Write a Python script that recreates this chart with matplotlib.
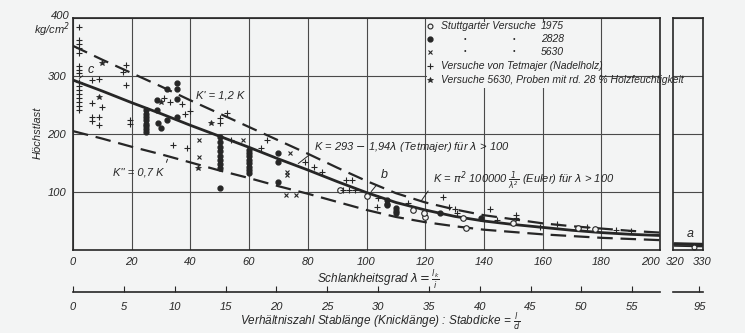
import numpy as np
import matplotlib.pyplot as plt
from matplotlib.patches import Rectangle

plt.rcParams['font.family'] = ['Liberation Sans', 'DejaVu Sans']
plt.rcParams['font.style'] = 'italic'
plt.rcParams['mathtext.fontset'] = 'dejavusans'

bg = '#f3f4f4'
ink = '#262626'
W, H = 745, 333

# Knickspannungslinien
lam_curve = [0, 10, 20, 30, 40, 50, 60, 70, 80, 90, 100, 110, 120, 130, 140, 150, 160, 170, 180, 190, 200]
K_mid = [293, 274, 254, 235, 215, 196, 177, 157, 138, 118, 99, 82, 69, 58, 50, 44, 39, 34, 30, 27, 25]
K_up = [352, 328, 305, 282, 258, 235, 212, 189, 166, 142, 119, 98, 82, 70, 60, 53, 46, 41, 37, 33, 30]
K_low = [205, 192, 178, 165, 151, 137, 124, 110, 97, 83, 69, 57, 48, 41, 35, 31, 27, 24, 21, 19, 17]

lam_a = [320, 330]
K_a_mid = [10, 9]
K_a_up = [12, 11]
K_a_low = [7, 6]

# Versuchswerte
circ_lam = [91, 100, 116, 120, 119.5, 133, 134, 150, 172, 178, 327]
circ_K = [103, 93, 69, 57, 64, 55, 38, 46, 38, 36, 5]

dot_lam = [25, 25, 25, 25, 25, 25, 25, 25,
           28.6, 28.6, 29, 30, 32, 32, 35.4, 35.4, 35.4, 35.4,
           50, 50, 50, 50, 50, 50, 50, 50, 50,
           60, 60, 60, 60, 60, 60, 60, 60,
           70, 70, 70, 107, 107, 107, 110, 110, 110, 125, 139]
dot_K = [203, 208, 213, 218, 224, 229, 235, 241,
         259, 241, 219, 210, 277, 224, 288, 277, 260, 229,
         107, 141, 148, 155, 162, 170, 178, 186, 195,
         133, 138, 143, 150, 156, 162, 167, 172,
         167, 152, 117, 86, 80, 77, 72, 68, 64, 64, 55]

x_lam = [43, 43, 58, 74, 73, 73, 76, 72.5]
x_K = [190, 160, 190, 167, 135, 129, 95, 95]

star_lam = [10, 9, 42.6, 47, 30]
star_K = [322, 263, 141, 219, 255]

plus_lam = [2, 2, 2, 2, 2, 2, 2, 2, 2, 2, 2, 2, 2, 2, 2, 2,
            6.5, 6.5, 6.5, 6.5, 9, 9, 9, 10, 17, 18, 18, 19.5, 19.5,
            31, 33, 34, 37, 39, 38, 40, 50, 50, 52.5, 54, 64, 66,
            79, 82, 85, 93, 95, 92, 94, 96, 104, 103.6, 114, 126, 128,
            130, 131, 142, 144.5, 151, 151, 159, 165, 175, 185, 190]
plus_K = [384, 362, 355, 348, 340, 318, 311, 305, 290, 283, 276, 269, 262, 255, 248, 241,
          293, 253, 229, 222, 295, 229, 215, 247, 307, 319, 284, 224, 217,
          262, 255, 181, 252, 176, 235, 240, 228, 219, 236, 190, 176, 190,
          152, 143, 134, 121, 121, 103, 103, 103, 90, 74, 81, 91, 75,
          70, 64, 70, 52, 60, 55, 40, 45, 40, 35, 33]

x_ticks = [0, 20, 40, 60, 80, 100, 120, 140, 160, 180, 200]
y_ticks = [100, 200, 300, 400]
ratio_ticks = [0, 5, 10, 15, 20, 25, 30, 35, 40, 45, 50, 55]


def fx(px):
    return px / W


def fy(py):
    return 1 - py / H


fig = plt.figure(figsize=(7.45, 3.33), dpi=100, facecolor=bg)
ax = fig.add_axes([fx(73), fy(250), 587 / W, 232 / H])
ax.set_facecolor(bg)
ax.set_xlim(0, 200)
ax.set_ylim(0, 400)
ax.set_xticks(x_ticks)
ax.set_yticks(y_ticks)
ax.set_xticklabels([str(t) for t in x_ticks], fontsize=8)
ax.get_xticklabels()[-1].set_horizontalalignment('right')
ax.set_yticklabels(['100', '200', '300', ''], fontsize=8)
ax.tick_params(length=0, pad=5, colors=ink)
ax.grid(True, color='#4a4a4a', lw=0.8)
for s in ax.spines.values():
    s.set_color(ink)
    s.set_linewidth(1.2)

dash = (0, (7, 3.5))
ax.plot(lam_curve, K_mid, color=ink, lw=2.0, zorder=3)
ax.plot(lam_curve, K_up, color=ink, lw=1.6, ls=dash, zorder=3)
ax.plot(lam_curve, K_low, color=ink, lw=1.6, ls=dash, zorder=3)

ax.plot(circ_lam, circ_K, 'o', ms=4, mfc=bg, mec=ink, mew=0.8, zorder=4)
ax.plot(dot_lam, dot_K, 'o', ms=3.5, color=ink, zorder=4)
ax.plot(x_lam, x_K, 'x', ms=3.5, color=ink, mew=0.8, zorder=4)
ax.plot(star_lam, star_K, '*', ms=4, color=ink, mew=0.5, zorder=4)
ax.plot(plus_lam, plus_K, '+', ms=4, color=ink, mew=0.8, zorder=4)

# Legende
ax.add_patch(Rectangle((fx(427), fy(88)), (600 - 427) / W, 66 / H, transform=fig.transFigure,
                       facecolor=bg, edgecolor='none', zorder=2.5))
leg_rows = [26, 39, 52, 66, 80]
leg_marks = [dict(marker='o', ms=3.5, mfc=bg, mec=ink, mew=0.8),
             dict(marker='o', ms=3.5, color=ink),
             dict(marker='x', ms=3, color=ink, mew=0.8),
             dict(marker='+', ms=4, color=ink, mew=0.8),
             dict(marker='*', ms=4, color=ink, mew=0.5)]
for py, mk in zip(leg_rows, leg_marks):
    ax.plot([fx(430)], [fy(py)], transform=fig.transFigure, clip_on=False, ls='none', zorder=5, **mk)
fs_leg = 7.5
fig.text(fx(441), fy(26), 'Stuttgarter Versuche', fontsize=fs_leg, va='center', color=ink)
for py, num in zip(leg_rows[:3], ['1975', '2828', '5630']):
    fig.text(fx(541), fy(py), num, fontsize=fs_leg, va='center', color=ink)
for py in leg_rows[1:3]:
    for px in [465, 514]:
        fig.text(fx(px), fy(py), '•', fontsize=5, va='center', ha='center', color=ink)
fig.text(fx(441), fy(66), 'Versuche von Tetmajer (Nadelholz)', fontsize=fs_leg, va='center', color=ink)
fig.text(fx(441), fy(80), 'Versuche 5630, Proben mit rd. 28 % Holzfeuchtigkeit', fontsize=fs_leg,
         va='center', color=ink)

# Beschriftungen der Linien
arrow = dict(arrowstyle='-', color=ink, lw=0.7)
ax.annotate('c', xy=(1.4, 293), xytext=(5, 306), fontsize=9, color=ink, arrowprops=arrow)
ax.annotate("K' = 1,2 K", xy=(39, 258), xytext=(42, 262), fontsize=8, color=ink, arrowprops=arrow)
ax.annotate("K'' = 0,7 K", xy=(32.5, 161), xytext=(13.5, 128), fontsize=8, color=ink,
            arrowprops=dict(arrowstyle='-', color=ink, lw=0.7, relpos=(1, 0.6)))
ax.annotate(r'K = 293 $-$ 1,94$\lambda$ (Tetmajer) für $\lambda$ > 100', xy=(76, 146), xytext=(82, 172),
            fontsize=8, color=ink, arrowprops=dict(arrowstyle='-', color=ink, lw=0.7, relpos=(0, 0.2)))
ax.annotate('b', xy=(101, 97), xytext=(105, 124), fontsize=9, color=ink, arrowprops=arrow)
ax.annotate(r'K = $\pi^2$ 100000 $\frac{1}{\lambda^2}$ (Euler) für $\lambda$ > 100', xy=(118, 80),
            xytext=(122.5, 116), fontsize=8, color=ink,
            arrowprops=dict(arrowstyle='-', color=ink, lw=0.7, relpos=(0, 0.3)))

fig.text(fx(70), fy(16), '400', fontsize=8, ha='right', va='center', color=ink)
fig.text(fx(70), fy(30), 'kg/cm$^2$', fontsize=8, ha='right', va='center', color=ink)
fig.text(fx(38), fy(133), 'Höchstlast', fontsize=8, rotation=90, ha='center', va='center', color=ink)
fig.text(fx(378), fy(279), r'Schlankheitsgrad $\lambda = \frac{l_k}{i}$', fontsize=8.5,
         ha='center', va='center', color=ink)

# Ausschnitt bei lambda = 320 ... 330
axi = fig.add_axes([fx(673), fy(250), 30 / W, 232 / H])
axi.set_facecolor(bg)
axi.set_xlim(319.3, 330.4)
axi.set_ylim(0, 400)
axi.set_xticks([320, 330])
axi.set_xticklabels(['320', '330'], fontsize=8)
axi.set_yticks(y_ticks)
axi.set_yticklabels([])
axi.tick_params(length=0, pad=5, colors=ink)
axi.grid(True, axis='y', color='#4a4a4a', lw=0.8)
for s in axi.spines.values():
    s.set_color(ink)
    s.set_linewidth(1.2)
axi.plot(lam_a, K_a_mid, color=ink, lw=2.0)
axi.plot(lam_a, K_a_up, color=ink, lw=1.2)
axi.plot(lam_a, K_a_low, color=ink, lw=1.2)
axi.plot([327], [5], 'o', ms=3.5, mfc=bg, mec=ink, mew=0.8, clip_on=False)
axi.text(324.5, 22, 'a', fontsize=9, color=ink)

# zweite Skala: l/d
axr = fig.add_axes([fx(73), fy(292), 587 / W, 0.001])
axr.set_facecolor('none')
axr.set_xlim(0, 200 / np.sqrt(12))
axr.set_xticks(ratio_ticks)
axr.set_xticklabels([str(t) for t in ratio_ticks], fontsize=8)
axr.set_yticks([])
axr.tick_params(axis='x', direction='in', length=4, width=0.8, pad=7, colors=ink)
for k in ['top', 'left', 'right']:
    axr.spines[k].set_visible(False)
axr.spines['bottom'].set_color(ink)
axr.spines['bottom'].set_linewidth(1.2)

axr2 = fig.add_axes([fx(673), fy(292), 30 / W, 0.001])
axr2.set_facecolor('none')
axr2.set_xlim(319.3 / np.sqrt(12), 330.4 / np.sqrt(12))
axr2.set_xticks([95])
axr2.set_xticklabels(['95'], fontsize=8)
axr2.set_yticks([])
axr2.tick_params(axis='x', direction='in', length=4, width=0.8, pad=7, colors=ink)
for k in ['top', 'left', 'right']:
    axr2.spines[k].set_visible(False)
axr2.spines['bottom'].set_color(ink)
axr2.spines['bottom'].set_linewidth(1.2)

fig.text(fx(380), fy(321), r'Verhältniszahl Stablänge (Knicklänge) : Stabdicke = $\frac{l}{d}$',
         fontsize=8.5, ha='center', va='center', color=ink)

fig.savefig('out.png', dpi=100, facecolor=bg)
